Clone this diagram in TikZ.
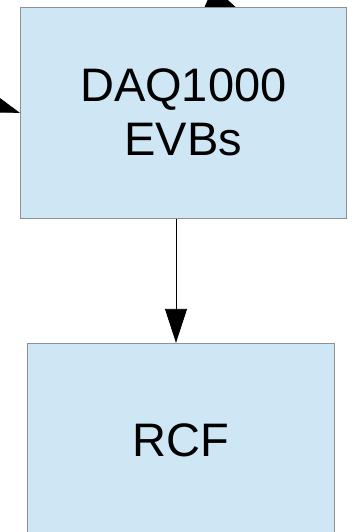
\documentclass[tikz,border=0pt]{standalone}
\usepackage{fontspec}
\setmainfont{Liberation Sans}
\usetikzlibrary{arrows.meta,backgrounds}
\definecolor{boxfill}{HTML}{CFE7F5}
\definecolor{boxline}{HTML}{909090}
\tikzset{
  block/.style={draw=boxline, fill=boxfill, line width=1pt, inner sep=0pt,
    align=center, font=\fontsize{47}{54}\selectfont},
  flow/.style={draw=black, line width=0.9pt,
    -{Triangle[length=34pt,width=22pt]}},
}
\begin{document}
\begin{tikzpicture}[x=1pt,y=-1pt]
  \clip (0,0) rectangle (352,532);
  % event builders
  \node[block, minimum width=326pt, minimum height=211pt] (evb) at (183.3,112.8)
    {DAQ1000\\EVBs};
  % computing facility, running past the lower edge
  \node[block, minimum width=307pt, minimum height=194pt] (rcf) at (180.5,440.3)
    {RCF};
  % incoming links from outside the drawn region
  \coordinate (srcL) at (-75,81);
  \coordinate (srcT) at (148.6,-29.7);
  \coordinate (tipT) at (240,11);
  \coordinate (mid) at (176,0);
  \begin{pgfonlayer}{background}
    \draw[flow] (srcT) -- (tipT);
  \end{pgfonlayer}
  \draw[flow] (srcL) -- (evb.west);
  \draw[flow] (evb.south -| mid) -- (rcf.north -| mid);
\end{tikzpicture}
\end{document}
